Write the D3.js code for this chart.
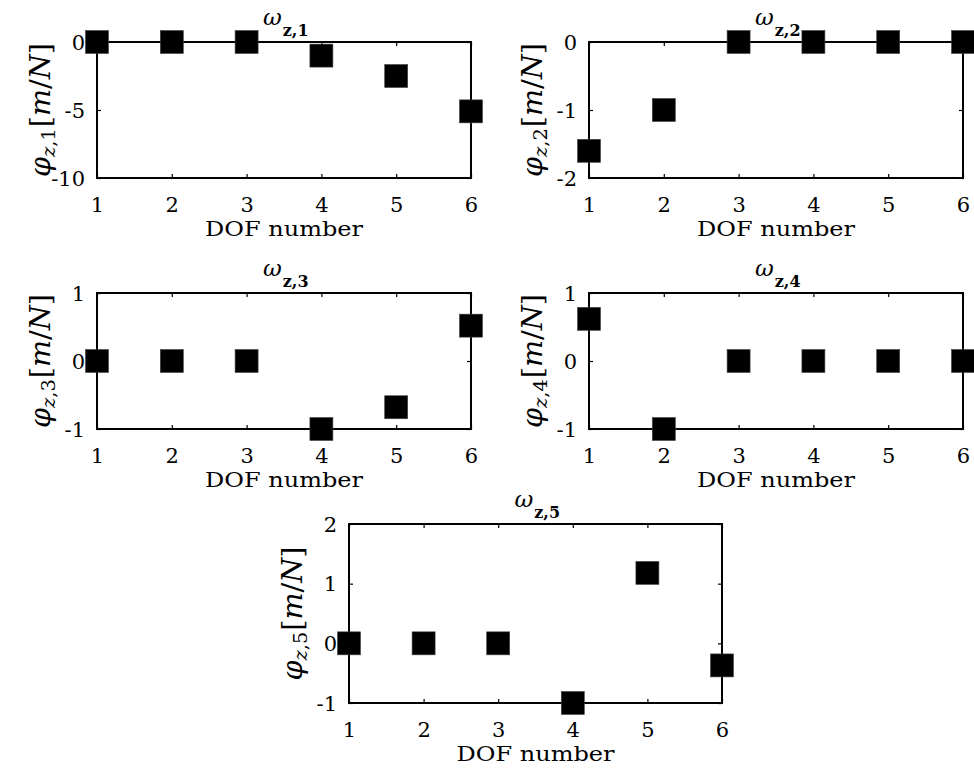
<!DOCTYPE html>
<html>
<head>
<meta charset="utf-8">
<script src="https://cdn.jsdelivr.net/npm/d3@7"></script>
<style>
  html, body { margin: 0; padding: 0; background: #fff; }
  svg { display: block; }
  text { font-family: "DejaVu Serif", serif; fill: #000; }
</style>
</head>
<body>
<svg id="chart" width="974" height="773"></svg>
<script>
// ---- data ----
const dof = [1, 2, 3, 4, 5, 6];
const xTicks = [1, 2, 3, 4, 5, 6];
const phi1 = [0, 0, 0, -1.0, -2.5, -5.1];
const phi2 = [-1.6, -1.0, 0, 0, 0, 0];
const phi3 = [0, 0, 0, -1.0, -0.68, 0.52];
const phi4 = [0.62, -1.0, 0, 0, 0, 0];
const phi5 = [0, 0, 0, -1.0, 1.18, -0.37];
const yDomain1 = [-10, 0], yTicks1 = [-10, -5, 0];
const yDomain2 = [-2, 0],  yTicks2 = [-2, -1, 0];
const yDomain3 = [-1, 1],  yTicks3 = [-1, 0, 1];
const yDomain4 = [-1, 1],  yTicks4 = [-1, 0, 1];
const yDomain5 = [-1, 2],  yTicks5 = [-1, 0, 1, 2];
const modeIndex = ["1", "2", "3", "4", "5"];
const xLabel = "DOF number";

// ---- layout ----
const boxes = [
  {x0: 97,  x1: 471, y0: 42,  y1: 178},
  {x0: 589, x1: 963, y0: 42,  y1: 178},
  {x0: 97,  x1: 471, y0: 293, y1: 429},
  {x0: 589, x1: 963, y0: 293, y1: 429},
  {x0: 349, x1: 722, y0: 524, y1: 703}
];
const panels = [
  {vals: phi1, dom: yDomain1, ticks: yTicks1},
  {vals: phi2, dom: yDomain2, ticks: yTicks2},
  {vals: phi3, dom: yDomain3, ticks: yTicks3},
  {vals: phi4, dom: yDomain4, ticks: yTicks4},
  {vals: phi5, dom: yDomain5, ticks: yTicks5}
];

const svg = d3.select("#chart");
const MS = 23; // marker size
const TL = 4;  // tick length

panels.forEach((p, i) => {
  const b = boxes[i];
  const x = d3.scaleLinear().domain([1, 6]).range([b.x0, b.x1]);
  const y = d3.scaleLinear().domain(p.dom).range([b.y1, b.y0]);
  const g = svg.append("g");
  const w = b.x1 - b.x0, h = b.y1 - b.y0;

  // axes via d3 (inside ticks)
  const xb = g.append("g").attr("transform", `translate(0,${b.y1})`)
    .call(d3.axisBottom(x).tickValues(xTicks).tickSizeInner(-TL).tickSizeOuter(0).tickFormat(d3.format("d")));
  const xt = g.append("g").attr("transform", `translate(0,${b.y0})`)
    .call(d3.axisTop(x).tickValues(xTicks).tickSizeInner(-TL).tickSizeOuter(0).tickFormat(""));
  const yl = g.append("g").attr("transform", `translate(${b.x0},0)`)
    .call(d3.axisLeft(y).tickValues(p.ticks).tickSizeInner(-TL).tickSizeOuter(0).tickPadding(12).tickFormat(d => String(d)));
  const yr = g.append("g").attr("transform", `translate(${b.x1},0)`)
    .call(d3.axisRight(y).tickValues(p.ticks).tickSizeInner(-TL).tickSizeOuter(0).tickFormat(""));
  [xb, xt, yl, yr].forEach(a => {
    a.select(".domain").remove();
    a.selectAll(".tick line").attr("stroke", "#000").attr("stroke-width", 1.2);
  });
  xb.selectAll(".tick text").attr("font-family", "DejaVu Serif").attr("font-size", 21)
    .attr("dy", null).attr("y", 34).attr("dominant-baseline", "alphabetic");
  yl.selectAll(".tick text").attr("font-family", "DejaVu Serif").attr("font-size", 21)
    .attr("dy", null).attr("dominant-baseline", "central");

  // frame
  g.append("rect").attr("x", b.x0).attr("y", b.y0).attr("width", w).attr("height", h)
    .attr("fill", "none").attr("stroke", "#000").attr("stroke-width", 2);

  // markers
  g.selectAll("rect.m").data(dof.map((d, k) => ({d, v: p.vals[k]}))).enter()
    .append("rect").attr("class", "m")
    .attr("x", d => x(d.d) - MS / 2).attr("y", d => y(d.v) - MS / 2)
    .attr("width", MS).attr("height", MS)
    .attr("fill", "#000").attr("stroke", "#444").attr("stroke-width", 0.6);

  // x label
  const xlab = g.append("text").attr("x", (b.x0 + b.x1) / 2).attr("y", b.y1 + 58)
    .attr("text-anchor", "middle").attr("font-size", 21).text(xLabel);
  xlab.attr("textLength", 158).attr("lengthAdjust", "spacingAndGlyphs");

  // title  ω_{z,i}
  const cx = (b.x0 + b.x1) / 2;
  const t = g.append("text").attr("x", cx - 21).attr("y", b.y0 - 17);
  t.append("tspan").attr("font-style", "italic").attr("font-size", 23).text("ω");
  t.append("tspan").attr("font-weight", "bold").attr("font-size", 16).attr("dx", 1).attr("dy", 11)
    .text("z," + modeIndex[i]);

  // y label φ_{z,i}[m/N]
  const cy = (b.y0 + b.y1) / 2;
  const yg = g.append("g").attr("transform", `translate(${b.x0 - 47},${cy}) rotate(-90)`);
  const yt = yg.append("text").attr("x", 0).attr("y", 0).attr("font-size", 28);
  yt.append("tspan").attr("font-style", "italic").text("φ");
  yt.append("tspan").attr("font-style", "italic").attr("font-size", 19).attr("dy", 5).text("z");
  yt.append("tspan").attr("font-size", 19).text("," + modeIndex[i]);
  yt.append("tspan").attr("dy", -5).attr("dx", 1).text("[");
  yt.append("tspan").attr("font-style", "italic").text("m");
  yt.append("tspan").text("/");
  yt.append("tspan").attr("font-style", "italic").text("N");
  yt.append("tspan").text("]");
  const bb = yt.node().getBBox();
  const target = 134;
  const s = target / bb.width;
  yt.attr("transform", `scale(${s},1) translate(${-(bb.x + bb.width / 2)},0)`);
});
</script>
</body>
</html>
